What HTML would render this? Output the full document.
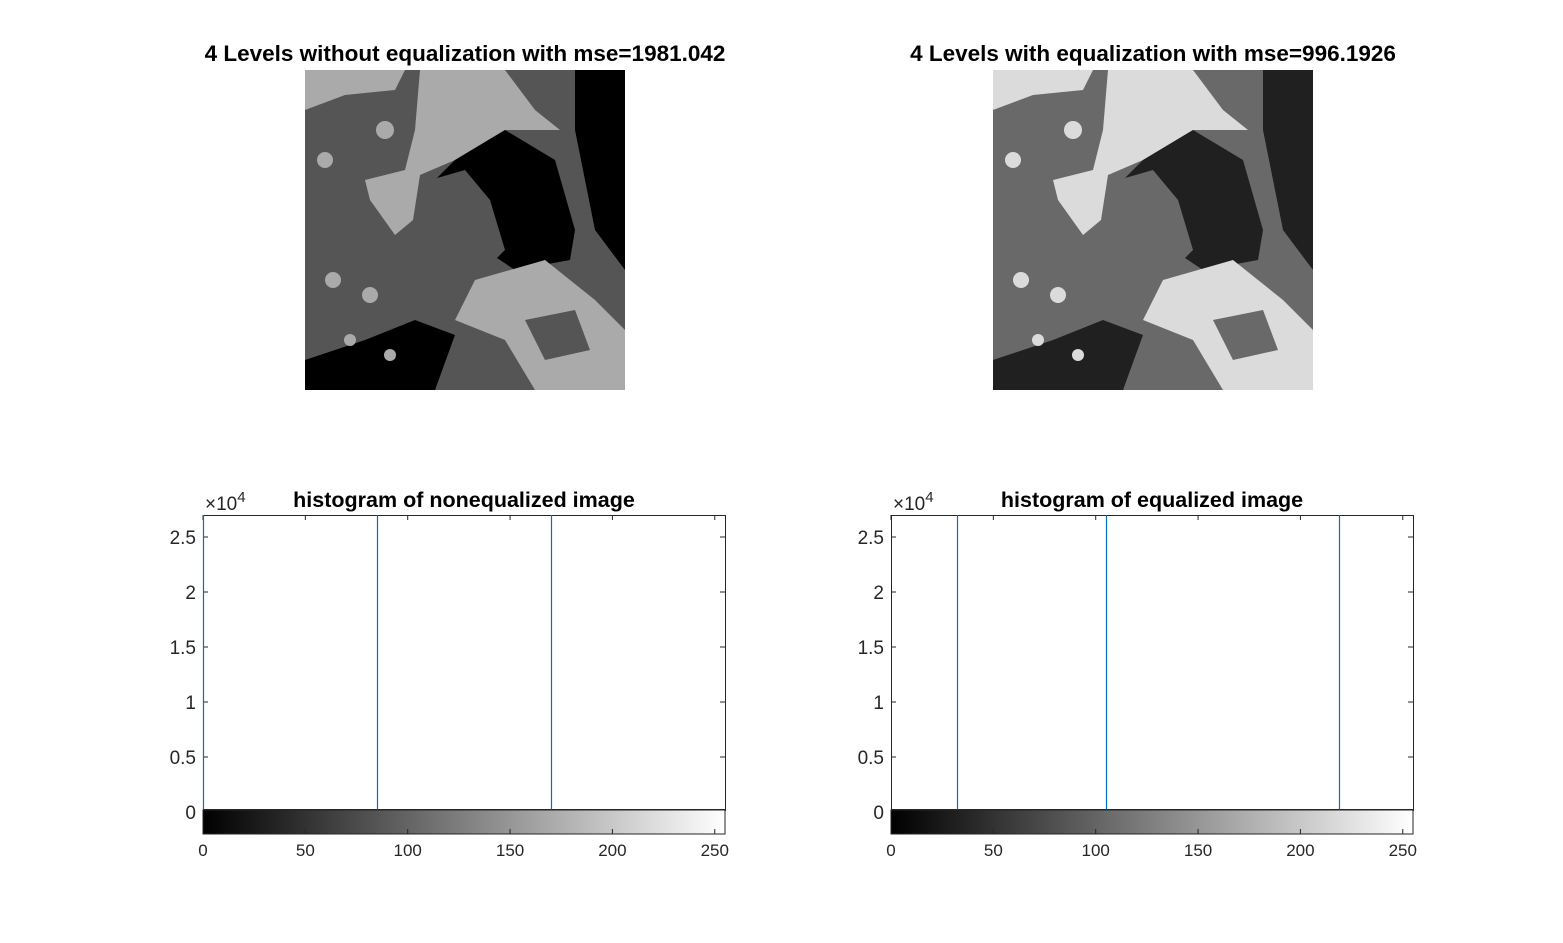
<!DOCTYPE html>
<html><head><meta charset="utf-8"><style>
body{margin:0;background:#fff;width:1563px;height:938px;overflow:hidden;font-family:"Liberation Sans",Arial,sans-serif;}
svg text{font-family:"Liberation Sans",Arial,sans-serif;}
.d{fill:var(--d)}.m{fill:var(--m)}.l{fill:var(--l)}
</style></head><body>
<svg id="fig" width="1563" height="938">
<defs>
<linearGradient id="gr" x1="0" x2="1" y1="0" y2="0"><stop offset="0" stop-color="#000"/><stop offset="1" stop-color="#fff"/></linearGradient>
<g id="photo">
<rect class="m" x="0" y="0" width="320" height="320"/>
<polygon class="l" points="0,0 100,0 90,20 40,25 0,40"/>
<polygon class="l" points="115,0 200,0 230,40 255,60 200,60 150,90 115,105 108,150 90,165 65,130 60,110 100,100 110,60"/>
<polygon class="d" points="150,90 200,60 250,90 270,160 265,190 210,200 180,180 130,110"/>
<polygon class="m" points="125,110 160,100 185,130 200,180 180,200 150,200 130,170"/>
<polygon class="d" points="270,0 320,0 320,200 290,160 270,60"/>
<polygon class="l" points="170,210 240,190 290,230 320,260 320,320 230,320 200,270 150,250"/>
<polygon class="m" points="220,250 270,240 285,280 240,290"/>
<polygon class="d" points="0,290 60,270 110,250 150,265 130,320 0,320"/>
<circle class="l" cx="20" cy="90" r="8"/><circle class="l" cx="28" cy="210" r="8"/><circle class="l" cx="65" cy="225" r="8"/>
<circle class="l" cx="45" cy="270" r="6"/><circle class="l" cx="80" cy="60" r="9"/><circle class="l" cx="85" cy="285" r="6"/>
</g>
</defs>
<text x="465" y="61" text-anchor="middle" font-size="22.5" font-weight="bold">4 Levels without equalization with mse=1981.042</text>
<g style="--d:#000;--m:#555;--l:#aaa" transform="translate(305,70)"><use href="#photo"/></g>
<text x="1153" y="61" text-anchor="middle" font-size="22.5" font-weight="bold">4 Levels with equalization with mse=996.1926</text>
<g style="--d:#202020;--m:#696969;--l:#dbdbdb" transform="translate(993,70)"><use href="#photo"/></g>
</svg>
<script>
const xTicks=[0,50,100,150,200,250];
const yTicks=[0,0.5,1,1.5,2,2.5];
const h1Bins=[0,85,170];
const h1Counts=[60000,55000,50000];
const h2Bins=[32,105,219];
const h2Counts=[50000,55000,60000];
const NS='http://www.w3.org/2000/svg';
const fig=document.getElementById('fig');
function mk(t,a,p){const e=document.createElementNS(NS,t);for(const k in a)e.setAttribute(k,a[k]);(p||fig).appendChild(e);return e;}
function hist(left,title,bins,counts,nm){
  const right=left+522,top=515,bottom=810,y0=812;
  const xs=v=>left+v*(right-left)/255;
  const ys=v=>y0-v/1e4*110;
  const g=mk('g',{});
  
  
  mk('rect',{x:left,y:top,width:right-left,height:bottom-top,fill:'#fff'},g);
  mk('rect',{x:left+0.5,y:top+0.5,width:right-left,height:bottom-top,fill:'none',stroke:'#262626','stroke-width':1},g);
  mk('line',{x1:left,x2:right,y1:bottom,y2:bottom,stroke:'#262626','stroke-width':2},g);
  yTicks.forEach(t=>{const y=ys(t*1e4);
    mk('line',{x1:left,x2:left+5,y1:y,y2:y,stroke:'#262626'},g);mk('line',{x1:right-5,x2:right,y1:y,y2:y,stroke:'#262626'},g);
    const tx=mk('text',{x:left-7,y:y+7,'text-anchor':'end','font-size':19,fill:'#262626'},g);tx.textContent=String(t);
    
    });
  xTicks.forEach(t=>{const x=xs(t);mk('line',{x1:x,x2:x,y1:top,y2:top+5,stroke:'#262626'},g);});
  bins.forEach((b,i)=>{const x=Math.round(xs(b))+0.5;
    const l=mk('line',{x1:x,x2:x,y1:ys(0),y2:Math.max(top,ys(counts[i])),stroke:'#0072bd','stroke-width':1.2},g);
    
    });
  const cb=mk('rect',{x:left,y:810,width:right-left,height:24,fill:'url(#gr)',stroke:'#262626'},g);
  
  
  xTicks.forEach(t=>{const x=xs(t);mk('line',{x1:x,x2:x,y1:829,y2:834,stroke:'#262626'},g);
    const tx=mk('text',{x:x,y:856,'text-anchor':'middle','font-size':17,fill:'#262626'},g);tx.textContent=String(t);
    
    });
  const ex=mk('text',{x:left+2,y:510,'font-size':19,fill:'#262626'},g);ex.innerHTML='×10<tspan dy="-8" font-size="15">4</tspan>';
  
  
  const tt=mk('text',{x:(left+right)/2,y:507,'text-anchor':'middle','font-size':21.5,'font-weight':'bold'},g);tt.textContent=title;
  
  
}
hist(203,'histogram of nonequalized image',h1Bins,h1Counts,'histogram-nonequalized');
hist(891,'histogram of equalized image',h2Bins,h2Counts,'histogram-equalized');
</script>
</body></html>
